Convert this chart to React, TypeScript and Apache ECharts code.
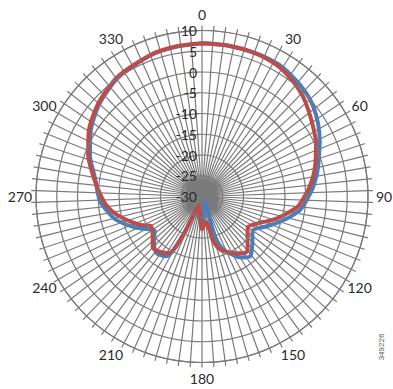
import React, { useEffect, useRef } from 'react';
import * as echarts from 'echarts';

// Angles (degrees) and gain values (dB) along each trace, in drawing order
const blueAngles = [0, 10, 20, 30, 38, 45, 51, 58, 65, 72, 78, 85, 90, 97, 103, 109, 116, 124, 133, 141, 146, 150, 158, 162, 161, 152, 180, 200, 206, 211, 219, 227, 234, 245, 255, 262, 268, 280, 290, 300, 312, 325, 340, 350, 360];
const blueValues = [6.9, 6.9, 6.9, 6.8, 6.1, 5.4, 4.5, 3.0, 1.3, -0.4, -1.6, -3.1, -4.3, -5.9, -8.2, -10.7, -13.3, -15.3, -13.4, -11.5, -12.3, -13.3, -16.2, -19.6, -23.8, -28.4, -22.5, -26.5, -20, -13.2, -12.5, -14.2, -15.9, -12.3, -8.5, -6.7, -5.3, -3.8, -1.3, 1.0, 3.3, 5.1, 6.2, 6.6, 6.9];

const redAngles = [0, 10, 20, 30, 38, 45, 51, 58, 65, 72, 78, 85, 90, 96, 102, 108, 114, 124, 133, 140, 144, 153, 161, 166, 171, 180, 201, 205, 206, 210, 217, 224, 232, 240, 245, 250, 258, 265, 272, 280, 290, 300, 312, 325, 340, 350, 360];
const redValues = [6.9, 6.9, 6.8, 6.4, 5.4, 4.3, 3.0, 1.6, 0.3, -1.2, -2.4, -4.0, -5.3, -6.8, -9.4, -11.9, -14.5, -16.7, -15.0, -12.9, -13.1, -14.8, -16.5, -18.9, -23.7, -22.1, -27.6, -25.0, -19.5, -14.3, -13.3, -12.9, -14.9, -15.8, -13.8, -12.0, -9.0, -6.8, -5.3, -3.5, -0.8, 1.5, 3.6, 5.3, 6.3, 6.7, 6.9];

const angleLabels = [0, 30, 60, 90, 120, 150, 180, 210, 240, 270, 300, 330];

const radiusMin = -30;
const radiusMax = 10;
const radiusStep = 5;
const spokeStep = 4;
const labelStep = 30;

const GRID = '#7a7a7a';
const TEXT = '#2b2b2b';
const FONT = 'Lato, "Open Sans", sans-serif';
const FS = 14;

export default function App() {
  const ref = useRef<HTMLDivElement>(null);
  useEffect(() => {
    const chart = echarts.init(ref.current!, null, { renderer: 'svg' });
    const center = [202, 196.5];
    const radius = 166;
    const labelPolarR = 150; // anchor radius of label polar
    const labelR = 182; // desired radius of label centres

    // per-label rich styles so every label is centred on a circle (as in the original)
    const rich: Record<string, any> = {};
    angleLabels.forEach((v) => {
      const th = (v * Math.PI) / 180;
      const s = Math.sin(th);
      const c = Math.cos(th);
      const w = String(v).length * 8.1;
      const h = FS;
      const px = labelPolarR * s;
      const py = -labelPolarR * c;
      const tx = labelR * s;
      const ty = -labelR * c;
      let pl = 0, pr = 0, pt = 0, pb = 0;
      if (Math.abs(s) < 0.3) {
        const d = tx - px;
        if (d > 0) pl = 2 * d; else pr = -2 * d;
      } else if (s > 0) pl = tx - px - w / 2;
      else pr = px - tx - w / 2;
      // text is centred vertically inside its padded box
      if (Math.abs(c) >= 0.3) {
        if (py < 0) pb = 2 * (py - ty) - h;
        else pt = 2 * (ty - py) - h;
      }
      rich['a' + v] = {
        padding: [pt, pr, pb, pl].map((x) => Math.max(0, x)),
        lineHeight: h,
        fontSize: FS,
        fontFamily: FONT,
        color: TEXT,
      };
    });

    chart.setOption({
      animation: false,
      backgroundColor: '#ffffff',
      polar: [
        { center, radius },
        { center, radius: labelPolarR },
      ],
      angleAxis: [
        {
          polarIndex: 0,
          type: 'value',
          min: 0,
          max: 360,
          interval: spokeStep,
          startAngle: 90,
          clockwise: true,
          axisLine: { show: true, lineStyle: { color: GRID, width: 1.2 } },
          axisTick: { show: true, inside: false, length: 5, lineStyle: { color: GRID, width: 1.2 } },
          axisLabel: { show: false },
          splitLine: { show: true, lineStyle: { color: GRID, width: 1.2 } },
        },
        {
          polarIndex: 1,
          type: 'value',
          min: 0,
          max: 360,
          interval: labelStep,
          startAngle: 90,
          clockwise: true,
          axisLine: { show: false },
          axisTick: { show: false },
          splitLine: { show: false },
          axisLabel: {
            show: true,
            margin: 0,
            fontSize: FS,
            fontFamily: FONT,
            color: TEXT,
            formatter: (v: number) => (v >= 360 ? '' : `{a${v}|${v}}`),
            rich,
          },
        },
      ],
      radiusAxis: [
        {
          polarIndex: 0,
          type: 'value',
          min: radiusMin,
          max: radiusMax,
          interval: radiusStep,
          axisLine: { show: false },
          axisTick: { show: false },
          splitLine: { show: true, lineStyle: { color: GRID, width: 1.2 } },
          axisLabel: {
            show: true,
            margin: 5,
            fontSize: FS,
            fontFamily: FONT,
            color: TEXT,
          },
          z: 5,
        },
        {
          polarIndex: 1,
          type: 'value',
          min: radiusMin,
          max: radiusMax,
          show: false,
        },
      ],
      series: [
        {
          type: 'line',
          coordinateSystem: 'polar',
          polarIndex: 0,
          symbol: 'none',
          smooth: 0.25,
          lineStyle: { color: '#4a7ebb', width: 4 },
          data: blueAngles.map((a, i) => [blueValues[i], a]),
          z: 3,
        },
        {
          type: 'line',
          coordinateSystem: 'polar',
          polarIndex: 0,
          symbol: 'none',
          smooth: 0.25,
          lineStyle: { color: '#be4b48', width: 4 },
          data: redAngles.map((a, i) => [redValues[i], a]),
          z: 4,
        },
      ],
      graphic: [
        {
          type: 'text',
          x: 381,
          y: 347,
          rotation: Math.PI / 2,
          style: {
            text: '349226',
            fill: '#555555',
            font: '8px "Liberation Sans", Arial, sans-serif',
            align: 'center',
            verticalAlign: 'middle',
          },
        },
      ],
    });
    return () => chart.dispose();
  }, []);
  return (
    <div
      ref={ref}
      style={{ position: 'fixed', left: 0, top: 0, width: 393, height: 389, background: '#fff' }}
    />
  );
}
